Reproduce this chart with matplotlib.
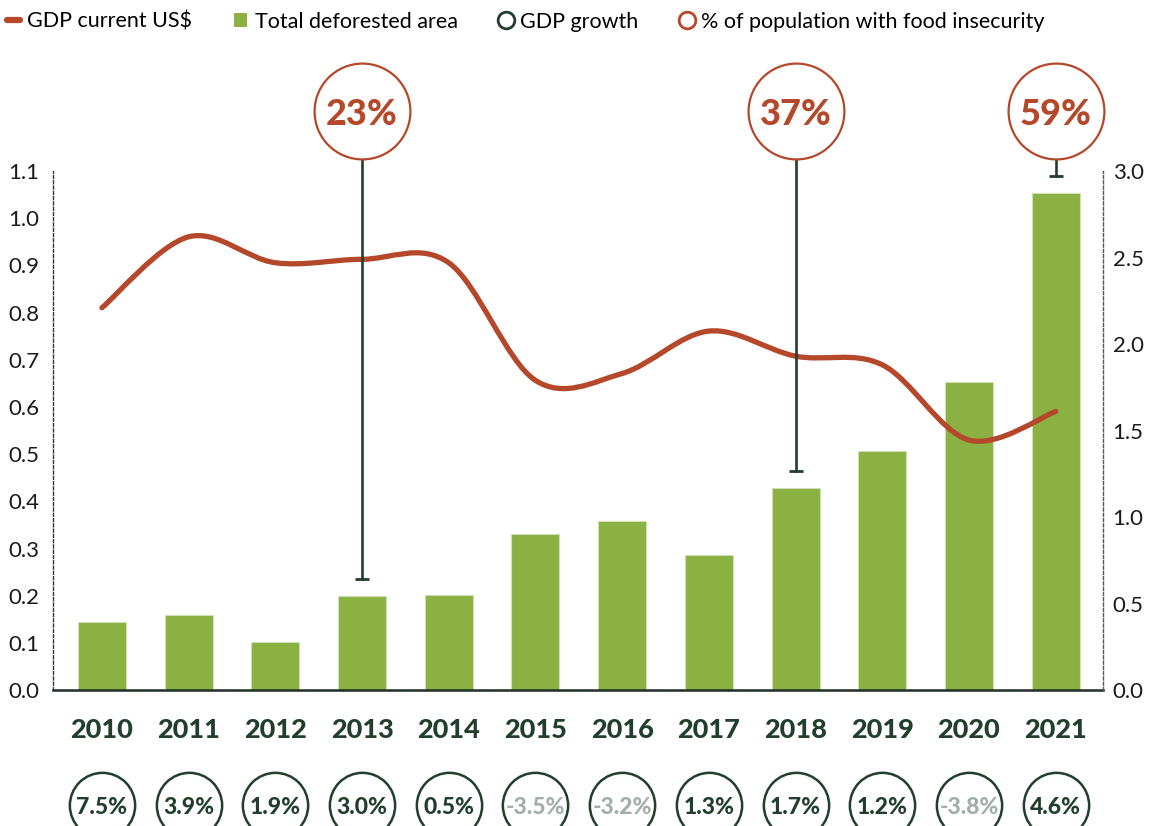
import matplotlib.pyplot as plt
import numpy as np
from matplotlib.path import Path
from matplotlib.patches import PathPatch, Patch
from matplotlib.lines import Line2D

plt.rcParams['font.family'] = ['Lato', 'DejaVu Sans']

# Data
years = [2010, 2011, 2012, 2013, 2014, 2015, 2016, 2017, 2018, 2019, 2020, 2021]
deforested_area = [0.144, 0.159, 0.102, 0.199, 0.201, 0.330, 0.358, 0.286, 0.428, 0.506, 0.653, 1.053]
gdp_current = [2.21, 2.62, 2.47, 2.49, 2.47, 1.79, 1.83, 2.075, 1.93, 1.88, 1.445, 1.61]
gdp_growth = [7.5, 3.9, 1.9, 3.0, 0.5, -3.5, -3.2, 1.3, 1.7, 1.2, -3.8, 4.6]
food_years = [2013, 2018, 2021]
food_insecurity = [23, 37, 59]

left_ticks = [0.0, 0.1, 0.2, 0.3, 0.4, 0.5, 0.6, 0.7, 0.8, 0.9, 1.0, 1.1]
right_ticks = [0.0, 0.5, 1.0, 1.5, 2.0, 2.5, 3.0]

GREEN = '#8AB142'
RED = '#B5482A'
DARK = '#213F2C'
GREY = '#A4AEA8'


def smooth_path(xs, ys):
    """Catmull-Rom style smoothed path (like a spreadsheet 'smoothed line')."""
    pts = np.column_stack([xs, ys]).astype(float)
    ext = np.vstack([pts[0], pts, pts[-1]])
    verts = [pts[0]]
    codes = [Path.MOVETO]
    for i in range(len(pts) - 1):
        p0, p1, p2, p3 = ext[i], ext[i + 1], ext[i + 2], ext[i + 3]
        verts += [p1 + (p2 - p0) / 6, p2 - (p3 - p1) / 6, p2]
        codes += [Path.CURVE4] * 3
    return Path(verts, codes)


fig = plt.figure(figsize=(11.56, 8.26), dpi=100)
ax = fig.add_axes([0.0458, 0.1646, 0.9083, 0.6283])
ax2 = ax.twinx()

x = np.arange(len(years))

# Bars
ax.bar(x, deforested_area, width=0.554, color=GREEN, edgecolor='#CFE0B4',
       linewidth=0.8, zorder=2)

ax.set_xlim(-0.565, 11.545)
ax.set_ylim(0, 1.1)
ax2.set_ylim(0, 3.0)

# Smoothed GDP line (right axis scale), kept in ax so connectors sit on top
line = PathPatch(smooth_path(x, gdp_current), transform=ax2.transData,
                 facecolor='none', edgecolor=RED, linewidth=3.8,
                 capstyle='round', joinstyle='round', zorder=3)
ax.add_patch(line)

# Food insecurity callouts
circle_y = 1.227
circle_bottom = 1.1255
for yr, pct in zip(food_years, food_insecurity):
    i = years.index(yr)
    tee = deforested_area[i] + 0.037
    ax.plot([i, i], [tee, circle_bottom], color=DARK, lw=1.9,
            clip_on=False, zorder=5)
    ax.plot(i, tee, marker='_', ms=10, mew=2, color=DARK, clip_on=False, zorder=5)
    ax.plot(i, circle_y, marker='o', ms=69, mfc='white', mec=RED, mew=1.6,
            clip_on=False, zorder=6)
    ax.text(i, circle_y, f'{pct}%', ha='center', va='center_baseline',
            fontsize=26, fontweight='black', color=RED, zorder=7, clip_on=False)

# GDP growth circles under the year labels
tr = ax.get_xaxis_transform()
for i, g in enumerate(gdp_growth):
    ax.plot(i, -0.2216, marker='o', ms=47, mfc='white', mec=DARK, mew=1.8,
            transform=tr, clip_on=False, zorder=5)
    ax.text(i, -0.2216, f'{g:.1f}%', ha='center', va='center_baseline',
            fontsize=16.5, fontweight='black', color=GREY if g < 0 else DARK,
            transform=tr, clip_on=False, zorder=6)

# Axes styling
ax.set_xticks(x)
ax.set_xticklabels([str(y) for y in years], fontsize=19.5, fontweight='black', color=DARK)
ax.set_yticks(left_ticks)
ax.set_yticklabels([f'{t:.1f}' for t in left_ticks], fontsize=16, color='#1A1A1A')
ax2.set_yticks(right_ticks)
ax2.set_yticklabels([f'{t:.1f}' for t in right_ticks], fontsize=16, color='#1A1A1A')
ax.tick_params(axis='x', length=0, pad=20)
ax.tick_params(axis='y', length=0, pad=10)
ax2.tick_params(axis='y', length=0, pad=7)

for a in (ax, ax2):
    a.spines['top'].set_visible(False)
ax.spines['right'].set_visible(False)
ax2.spines['left'].set_visible(False)
ax2.spines['bottom'].set_visible(False)
ax.spines['left'].set_linestyle((0, (2.2, 1.6)))
ax.spines['left'].set_linewidth(1)
ax.spines['left'].set_color('#333333')
ax2.spines['right'].set_linestyle((0, (2.2, 1.6)))
ax2.spines['right'].set_linewidth(1)
ax2.spines['right'].set_color('#555555')
ax.spines['bottom'].set_linewidth(1.8)
ax.spines['bottom'].set_color('#1F2F25')

# Legend
handles = [
    Line2D([], [], color=RED, lw=4.5, solid_capstyle='round'),
    Patch(facecolor=GREEN, edgecolor='none'),
    Line2D([], [], marker='o', ls='none', ms=12, mfc='white', mec=DARK, mew=2),
    Line2D([], [], marker='o', ls='none', ms=12, mfc='white', mec=RED, mew=2),
]
labels = ['GDP current US$', 'Total deforested area', 'GDP growth',
          '% of population with food insecurity']
fig.legend(handles, labels, loc='upper left', bbox_to_anchor=(0.006, 0.986),
           ncol=4, frameon=False, fontsize=15.5, handlelength=0.6,
           handleheight=0.6, handletextpad=0.35, columnspacing=1.95,
           borderpad=0, borderaxespad=0)

fig.savefig('out.png', dpi=100)
